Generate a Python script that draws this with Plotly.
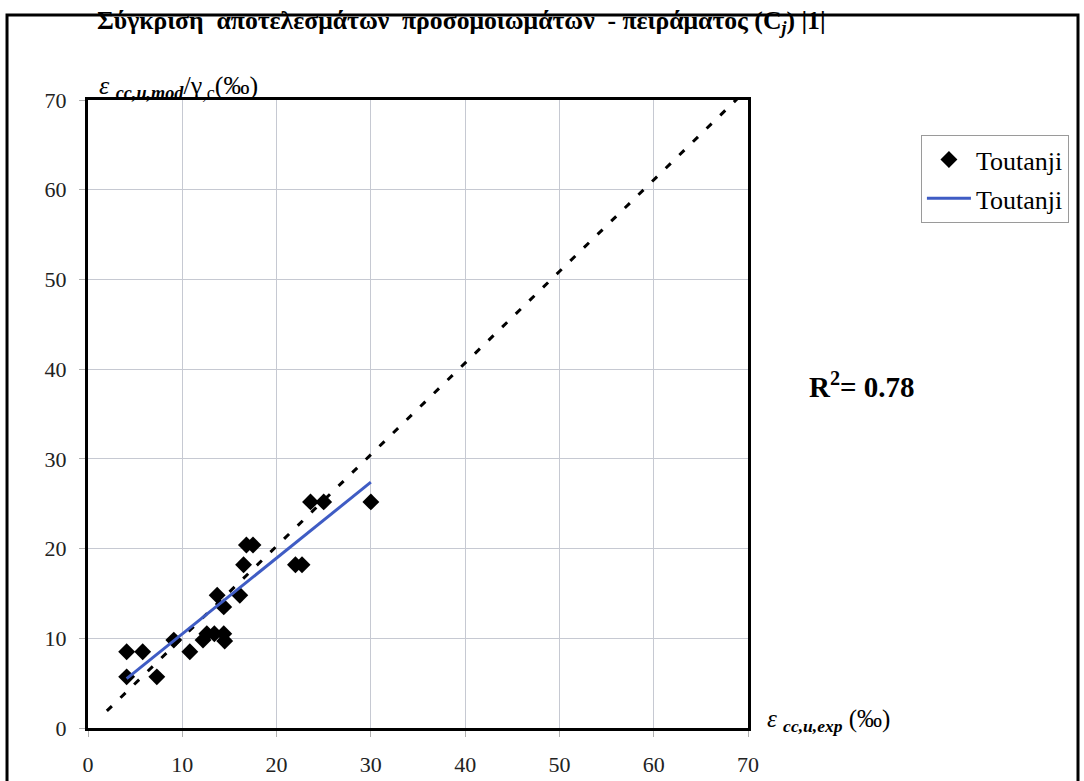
import plotly.graph_objects as go

# Experimental vs. model strain (per mille)
exp_strain = [4.1, 5.8, 4.1, 7.3, 9.1, 10.8, 12.2, 12.6, 13.4, 14.4, 14.5,
              13.7, 14.4, 16.1, 16.5, 16.8, 17.5, 22.0, 22.7, 23.6, 25.0, 30.0]
mod_strain = [8.5, 8.5, 5.7, 5.7, 9.8, 8.5, 9.8, 10.5, 10.5, 10.5, 9.7,
              14.8, 13.5, 14.8, 18.2, 20.4, 20.4, 18.2, 18.2, 25.2, 25.2, 25.2]

# Fitted line over the data range
fit_x = [4.1, 30.0]
fit_y = [5.5, 27.4]

# Equality reference line
diag_x = [2.0, 70.0]
diag_y = [1.9, 71.3]

tick_vals = [0, 10, 20, 30, 40, 50, 60, 70]
r_squared = 0.78

SERIF = "Liberation Serif"

fig = go.Figure()

fig.add_trace(go.Scatter(
    x=diag_x, y=diag_y, mode="lines",
    line=dict(color="black", width=3, dash="7px,12px"),
    showlegend=False, hoverinfo="skip",
))

fig.add_trace(go.Scatter(
    x=exp_strain, y=mod_strain, mode="markers", name="Toutanji",
    legendgroup="pts",
    marker=dict(symbol="diamond", size=13, color="black"),
))

fig.add_trace(go.Scatter(
    x=fit_x, y=fit_y, mode="lines", name="Toutanji",
    legendgroup="fit",
    line=dict(color="#3f5cc4", width=3),
))

axis_common = dict(
    range=[0, 70], tickvals=tick_vals, showgrid=True,
    gridcolor="#c6c9d2", gridwidth=1, zeroline=False,
    showline=True, linecolor="black", linewidth=3, mirror=True,
    ticks="outside", ticklen=6, tickcolor="#b0b0b0",
    tickfont=dict(family=SERIF, size=22, color="#222"),
    automargin=False,
)

fig.update_layout(
    width=1084, height=781,
    margin=dict(l=88, r=336, t=100, b=53),
    paper_bgcolor="white", plot_bgcolor="white",
    xaxis=dict(**axis_common, ticklabelstandoff=9),
    yaxis=dict(**axis_common, ticklabelstandoff=8),
    legend=dict(
        x=1.262, y=0.944, xanchor="left", yanchor="top",
        bordercolor="#9a9a9a", borderwidth=1,
        font=dict(family=SERIF, size=26, color="black"),
        itemwidth=44, tracegroupgap=2,
    ),
)

annotations = [
    dict(text="<b>Σύγκριση  αποτελεσμάτων  προσομοιωμάτων  - πειράματος (C<sub><i>j</i></sub>) |1|</b>",
         x=0.0106, y=1.124, xanchor="left", yanchor="middle",
         font=dict(family=SERIF, size=25.7, color="black")),
    dict(text="<i>ε</i> <sub><i><b>cc,u,mod</b></i></sub>/γ<sub>,c</sub>(‰)",
         x=0.0136, y=1.02, xanchor="left", yanchor="middle",
         font=dict(family=SERIF, size=26, color="black")),
    dict(text="<i>ε</i> <sub><i><b>cc,u,exp</b></i></sub> (‰)",
         x=1.026, y=0.012, xanchor="left", yanchor="middle",
         font=dict(family=SERIF, size=25, color="black")),
    dict(text=f"<b>R<sup>2</sup>= {r_squared:.2f}</b>",
         x=1.173, y=0.546, xanchor="center", yanchor="middle",
         font=dict(family=SERIF, size=29, color="black")),
]
for a in annotations:
    fig.add_annotation(xref="paper", yref="paper", showarrow=False, **a)

# Outer frame around the whole chart
fig.add_shape(type="rect", xref="paper", yref="paper",
              x0=-0.1227, x1=1.5, y0=-0.12, y1=1.1354,
              line=dict(color="black", width=3), layer="above")

fig.write_html("out.html")
